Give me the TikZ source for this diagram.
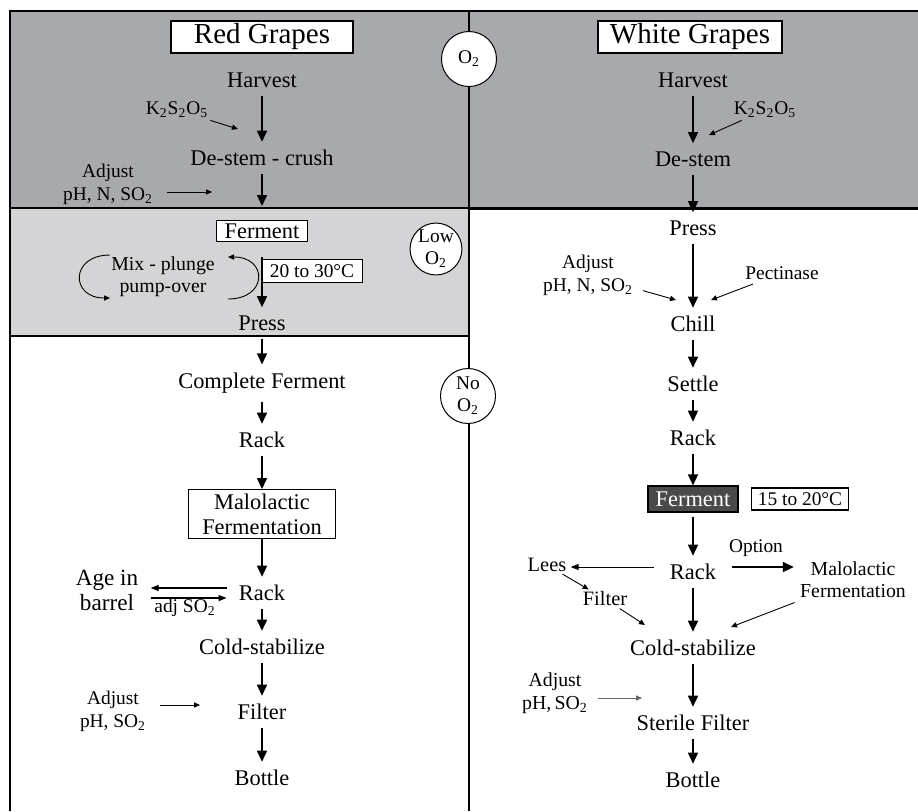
\documentclass[tikz,border=0pt]{standalone}
\usepackage{fontspec}
\setmainfont{Liberation Serif}
\usetikzlibrary{arrows.meta}

\newcommand{\chemsub}[1]{\textsubscript{#1}}
\definecolor{oxgray}{HTML}{A8A9AD}
\definecolor{lowgray}{HTML}{D4D4D6}
\definecolor{fermdark}{HTML}{4A4A4A}

\tikzset{
  stage/.style={font=\fontsize{11.2}{13}\selectfont, inner xsep=2pt, inner ysep=4pt},
  note/.style={font=\fontsize{9.7}{11.5}\selectfont, align=center, inner sep=1pt},
  titlebox/.style={draw, line width=0.6pt, fill=white, font=\fontsize{14.5}{16}\selectfont,
    minimum height=16pt, inner sep=0pt},
  framed/.style={stage, draw, line width=0.5pt, fill=white, inner sep=1pt},
  gasring/.style={circle, draw, line width=0.5pt, fill=white, align=center,
    font=\fontsize{9.7}{11}\selectfont, inner sep=0pt},
  frame/.style={line width=0.8pt},
  flow/.style={-{Triangle[length=5.5pt,width=5pt]}, line width=0.8pt},
  feed/.style={-{Triangle[length=3pt,width=2.6pt]}, line width=0.45pt},
  swap/.style={-{Triangle[length=4pt,width=3pt]}, line width=0.6pt},
}

\begin{document}
\begin{tikzpicture}[x=0.5pt, y=-0.5pt]
    \useasboundingbox (0,0) rectangle (918,811);

    % Bands of oxygen exposure
    \fill[oxgray] (10,11) rectangle (918,208);
    \fill[lowgray] (10,208) rectangle (469,336);
    \draw[frame] (10,811) -- (10,11) -- (918,11);
    \draw[frame] (469,11) -- (469,811);
    \draw[frame] (10,208) -- (469,208);
    \draw[line width=1.5pt] (469,208) -- (918,208);
    \draw[frame] (10,336) -- (469,336);

    % Oxygen markers
    \node[gasring, minimum size=27.5pt] (ringO) at (469,59) {O\chemsub{2}};
    \node[gasring, minimum size=23pt] (ringLow) at (436,249) {Low\\O\chemsub{2}};
    \node[gasring, minimum size=27.5pt] (ringNo) at (468,396) {No\\O\chemsub{2}};

    % Red grapes column
    \node[titlebox, minimum width=91pt] (titleR) at (262,37) {Red Grapes};
    \node[stage] (harvestR) at (262,80) {Harvest};
    \node[stage] (destemR) at (262,158) {De-stem - crush};
    \node[framed, minimum width=45.5pt, minimum height=10.5pt] (fermentR) at (262,231) {Ferment};
    \node[stage] (pressR) at (262,323) {Press};
    \node[stage] (completeR) at (262,383) {Complete Ferment};
    \node[stage] (rackR) at (262,440) {Rack};
    \node[framed, align=center, font=\fontsize{11.2}{12.5}\selectfont,
          minimum width=73.5pt, minimum height=24.5pt] (maloR) at (262,514) {Malolactic\\Fermentation};
    \node[stage] (rack2R) at (262,593) {Rack};
    \node[stage] (coldR) at (262,647) {Cold-stabilize};
    \node[stage] (filterR) at (262,712) {Filter};
    \node[stage] (bottleR) at (262,778) {Bottle};

    % Red grapes additions
    \node[note] (k2R) at (177,110) {K\chemsub{2}S\chemsub{2}O\chemsub{5}};
    \node[note] (adjR) at (108,184) {Adjust\\pH, N, SO\chemsub{2}};
    \node[note, font=\fontsize{9.9}{11}\selectfont] (mixR) at (163,277) {Mix - plunge\\pump-over};
    \node[note, minimum width=50pt, minimum height=11.5pt, draw, line width=0.5pt, fill=white,
          inner sep=0pt] (tempR) at (312,271) {20 to 30°C};
    \node[stage, align=center, font=\fontsize{11.6}{12.5}\selectfont] (ageR) at (107,590) {Age in\\barrel};
    \node[note] (adjSO) at (185,608) {adj SO\chemsub{2}};
    \node[note] (adj3R) at (113,711) {Adjust\\pH, SO\chemsub{2}};

    \coordinate (k2Rend) at (238,129);
    \coordinate (adjRend) at (212,192);
    \coordinate (adj3Rend) at (200,705);

    \draw[flow] (harvestR) -- (destemR);
    \draw[flow, shorten >=7pt] (destemR) -- (fermentR);
    \draw[flow, shorten <=7.5pt] (fermentR) -- (pressR);
    \draw[flow] (pressR) -- (completeR);
    \draw[flow] (completeR) -- (rackR);
    \draw[flow] (rackR) -- (maloR);
    \draw[flow] (maloR) -- (rack2R);
    \draw[flow] (rack2R) -- (coldR);
    \draw[flow] (coldR) -- (filterR);
    \draw[flow] (filterR) -- (bottleR);

    \draw[feed] (k2R) -- (k2Rend);
    \draw[feed, shorten <=6pt] (adjR.east |- adjRend) -- (adjRend);
    \draw[feed, shorten <=6pt] (adj3R.east |- adj3Rend) -- (adj3Rend);
    \draw[swap, shorten <=4pt, shorten >=4pt] ([yshift=2.5pt]rack2R.west) -- ([yshift=2.5pt]rack2R.west -| ageR.east);
    \draw[swap, shorten <=4pt, shorten >=4pt] ([yshift=-2.5pt]ageR.east |- rack2R.west) -- ([yshift=-2.5pt]rack2R.west);

    % Mixing loop
    \draw[feed] (110,255) .. controls (70,255) and (70,298) .. (110,298);
    \draw[feed] (228,299) .. controls (268,299) and (268,257) .. (228,257);

    % White grapes column
    \node[titlebox, minimum width=92pt] (titleW) at (690,37) {White Grapes};
    \node[stage] (harvestW) at (693,80) {Harvest};
    \node[stage] (destemW) at (693,159) {De-stem};
    \node[stage] (pressW) at (693,228) {Press};
    \node[stage] (chillW) at (693,324) {Chill};
    \node[stage] (settleW) at (693,384) {Settle};
    \node[stage] (rackW) at (693,438) {Rack};
    \node[stage, draw, line width=0.6pt, fill=fermdark, text=white, inner sep=1pt,
          minimum width=45pt, minimum height=13pt] (fermentW) at (693,499) {Ferment};
    \node[note, draw, line width=0.6pt, fill=white, inner sep=0pt,
          minimum width=48.5pt, minimum height=11pt] (tempW) at (800,499) {15 to 20°C};
    \node[stage] (rack2W) at (693,572) {Rack};
    \node[stage] (coldW) at (693,648) {Cold-stabilize};
    \node[stage] (sterileW) at (693,723) {Sterile Filter};
    \node[stage] (bottleW) at (693,780) {Bottle};

    % White grapes additions
    \node[note] (k2W) at (765,110) {K\chemsub{2}S\chemsub{2}O\chemsub{5}};
    \node[note] (adjW) at (588,275) {Adjust\\pH, N, SO\chemsub{2}};
    \node[note] (pectW) at (782,273) {Pectinase};
    \node[note] (optionW) at (756,548) {Option};
    \node[note, font=\fontsize{9.9}{11}\selectfont] (maloW) at (853,580) {Malolactic\\Fermentation};
    \node[note, font=\fontsize{10.2}{11}\selectfont] (leesW) at (547,565) {Lees};
    \node[note, font=\fontsize{10.2}{11}\selectfont] (filterW) at (605,599) {Filter};
    \node[note, font=\fontsize{9.9}{11.5}\selectfont] (adj2W) at (555,693) {Adjust\\pH,\,SO\chemsub{2}};

    \coordinate (k2Wend) at (709,135);
    \coordinate (adjWend) at (676,300);
    \coordinate (pectWend) at (711,300);
    \coordinate (filterWend) at (645,625);
    \coordinate (maloWend) at (731,627);
    \coordinate (adj2Wend) at (642,698);

    \draw[flow] (harvestW) -- (destemW);
    \draw[flow] (destemW) -- (pressW);
    \draw[flow] (pressW) -- (chillW);
    \draw[flow] (chillW) -- (settleW);
    \draw[flow] (settleW) -- (rackW);
    \draw[flow] (rackW) -- (fermentW);
    \draw[flow, shorten <=2pt] (fermentW) -- (rack2W);
    \draw[flow] (rack2W) -- (coldW);
    \draw[flow] (coldW) -- (sterileW);
    \draw[flow] (sterileW) -- (bottleW);
    \draw[flow, shorten <=6pt, shorten >=2pt] ([yshift=2.5pt]rack2W.east) -- ([yshift=2.5pt]rack2W.east -| maloW.west);

    \draw[feed] (k2W) -- (k2Wend);
    \draw[feed, shorten <=4pt] (adjW) -- (adjWend);
    \draw[feed, shorten <=3pt] (pectW) -- (pectWend);
    \draw[swap, line width=0.5pt, shorten <=6pt, shorten >=1pt] ([yshift=2.5pt]rack2W.west) -- ([yshift=2.5pt]rack2W.west -| leesW.east);
    \draw[feed] (leesW) -- (filterW);
    \draw[feed] (filterW) -- (filterWend);
    \draw[feed, shorten <=3pt] (maloW) -- (maloWend);
    \draw[feed, draw=black!60, shorten <=4pt] (adj2W.east |- adj2Wend) -- (adj2Wend);

\end{tikzpicture}
\end{document}
